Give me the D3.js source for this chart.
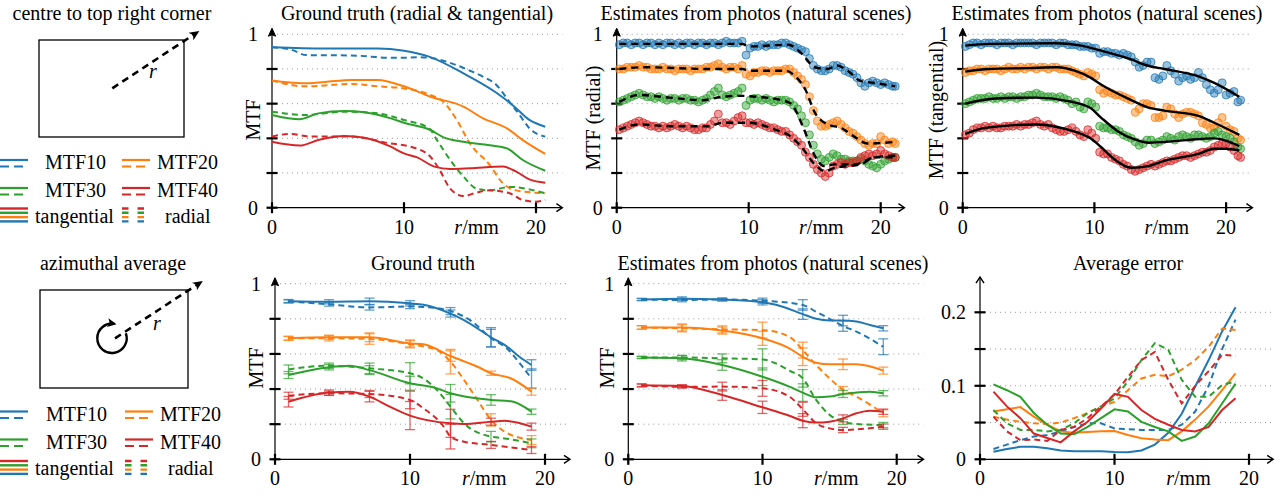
<!DOCTYPE html>
<html><head><meta charset="utf-8">
<script src="https://cdn.jsdelivr.net/npm/d3@7"></script>
<style>
body{margin:0;background:#fff}
svg{display:block}
text{font-family:"Liberation Serif","Times New Roman",serif;font-size:20px;fill:#000}
</style>
</head><body>
<svg id="c" width="1284" height="496"></svg>
<script>
// ---------------- DATA ----------------
const seriesNames = ["MTF10","MTF20","MTF30","MTF40"];
const colors = ["#1f77b4","#ff7f0e","#2ca02c","#d62728"];
const xTickVals = [0,10,20];
const mtfGrid = [0.2,0.4,0.6,0.8,1];
const mtfTicks = [0,0.2,0.4,0.6,0.8];
const mtfTickLabels = [{v:1,t:"1"},{v:0,t:"0"}];
const errGrid = [0.05,0.1,0.15,0.2];
const errTicks = [0,0.05,0.1,0.15,0.2];
const errTickLabels = [{v:0.2,t:"0.2"},{v:0.1,t:"0.1"},{v:0,t:"0"}];

// Panel A: ground truth, centre to corner (knots [r, MTF])
const gtTang10 = [[0,0.925],[4,0.918],[8,0.918],[10,0.905],[11.9,0.871],[14.5,0.775],[17,0.663],[18.3,0.587],[19.5,0.506],[20.7,0.467]];
const gtRad10  = [[0,0.925],[1.5,0.91],[2.6,0.88],[6,0.878],[9,0.865],[10,0.865],[11,0.868],[12.3,0.86],[13.5,0.835],[15,0.79],[16,0.755],[17,0.708],[17.8,0.63],[18.8,0.53],[19.5,0.458],[20.7,0.41]];
const gtTang20 = [[0,0.733],[2.3,0.717],[4,0.725],[6,0.737],[8,0.737],[10,0.70],[12,0.64],[14.5,0.583],[16,0.515],[17.8,0.458],[19,0.39],[20.7,0.31]];
const gtRad20  = [[0,0.733],[2.5,0.70],[6,0.713],[8,0.70],[10,0.688],[12,0.65],[13,0.61],[14,0.506],[15,0.37],[16.5,0.246],[17.5,0.14],[18.5,0.10],[20.7,0.083]];
const gtTang30 = [[0,0.535],[2.1,0.51],[3.5,0.544],[5.5,0.558],[7,0.55],[9,0.515],[10,0.49],[12,0.448],[13,0.406],[14.5,0.38],[16.5,0.36],[17.8,0.342],[19,0.275],[20.7,0.213]];
const gtRad30  = [[0,0.554],[2.5,0.535],[5.5,0.554],[8,0.544],[10,0.506],[11.9,0.458],[12.5,0.39],[13.5,0.275],[14.5,0.18],[15.5,0.11],[16.5,0.10],[18,0.12],[20.7,0.083]];
const gtTang40 = [[0,0.38],[2.1,0.358],[3.5,0.39],[5.5,0.413],[7,0.404],[9,0.352],[10,0.313],[11,0.29],[12.3,0.237],[13.5,0.223],[15,0.227],[17.5,0.237],[18.5,0.208],[19.5,0.163],[20.7,0.144]];
const gtRad40  = [[0,0.41],[1.3,0.425],[3,0.41],[6,0.41],[9,0.37],[10.5,0.352],[12,0.294],[12.7,0.217],[13.5,0.11],[14.5,0.067],[15.5,0.087],[16.5,0.10],[18,0.083],[19,0.044],[20,0.035],[20.7,0.044]];

// Panels B, C: per-patch estimates (r positions shared)
const scatR = [0.2,0.5,0.8,1.1,1.4,1.7,2.0,2.3,2.6,2.9,3.2,3.5,3.8,4.1,4.4,4.7,5.0,5.3,5.6,5.9,6.2,6.5,6.8,7.1,7.4,7.7,8.0,8.3,8.6,8.9,9.2,9.5,9.8,10.1,10.4,10.7,11.0,11.3,11.6,11.9,12.2,12.5,12.8,13.1,13.4,13.7,14.0,14.3,14.6,14.9,15.2,15.5,15.8,16.1,16.4,16.7,17.0,17.3,17.6,17.9,18.2,18.5,18.8,19.1,19.4,19.7,20.0,20.3,20.6,20.9,21.1];
const radB10 = [0.94,0.95,0.95,0.94,0.95,0.95,0.94,0.95,0.95,0.94,0.95,0.94,0.95,0.95,0.94,0.95,0.94,0.95,0.95,0.94,0.95,0.95,0.94,0.95,0.95,0.94,0.95,0.96,0.95,0.95,0.95,0.96,0.88,0.92,0.93,0.93,0.94,0.93,0.94,0.94,0.94,0.95,0.95,0.94,0.93,0.92,0.91,0.90,0.86,0.82,0.80,0.79,0.79,0.80,0.82,0.82,0.81,0.79,0.78,0.77,0.75,0.72,0.70,0.72,0.73,0.72,0.71,0.72,0.71,0.70,0.70];
const radB20 = [0.80,0.80,0.81,0.81,0.81,0.82,0.81,0.81,0.80,0.80,0.80,0.81,0.80,0.80,0.79,0.80,0.80,0.80,0.79,0.80,0.80,0.80,0.81,0.81,0.82,0.83,0.81,0.80,0.81,0.81,0.80,0.82,0.77,0.76,0.78,0.78,0.79,0.79,0.78,0.79,0.79,0.79,0.80,0.80,0.78,0.76,0.74,0.71,0.64,0.56,0.50,0.47,0.47,0.48,0.49,0.50,0.48,0.46,0.44,0.43,0.41,0.39,0.37,0.36,0.37,0.37,0.41,0.39,0.37,0.38,0.37];
const radB30 = [0.61,0.62,0.63,0.64,0.65,0.66,0.65,0.64,0.64,0.63,0.64,0.63,0.62,0.63,0.63,0.62,0.63,0.63,0.62,0.62,0.61,0.62,0.63,0.65,0.67,0.69,0.65,0.64,0.65,0.66,0.67,0.69,0.59,0.62,0.63,0.63,0.62,0.63,0.62,0.61,0.62,0.62,0.62,0.61,0.59,0.57,0.53,0.49,0.42,0.36,0.31,0.28,0.27,0.29,0.31,0.30,0.28,0.28,0.27,0.27,0.27,0.28,0.27,0.25,0.24,0.23,0.25,0.27,0.28,0.29,0.29];
const radB40 = [0.45,0.46,0.47,0.48,0.49,0.50,0.49,0.48,0.47,0.47,0.46,0.47,0.46,0.47,0.48,0.47,0.46,0.47,0.46,0.45,0.45,0.46,0.46,0.48,0.50,0.54,0.49,0.49,0.48,0.50,0.52,0.53,0.49,0.49,0.48,0.49,0.48,0.47,0.46,0.46,0.45,0.44,0.44,0.42,0.40,0.38,0.36,0.32,0.29,0.25,0.22,0.20,0.18,0.20,0.24,0.25,0.26,0.25,0.26,0.26,0.27,0.29,0.30,0.31,0.30,0.31,0.33,0.31,0.30,0.29,0.29];
const tanC10 = [0.93,0.94,0.95,0.95,0.94,0.95,0.95,0.95,0.94,0.95,0.95,0.95,0.94,0.95,0.95,0.95,0.95,0.95,0.94,0.95,0.95,0.95,0.95,0.94,0.95,0.95,0.94,0.94,0.94,0.93,0.93,0.93,0.92,0.92,0.89,0.90,0.90,0.89,0.89,0.88,0.89,0.88,0.87,0.84,0.81,0.82,0.84,0.84,0.75,0.74,0.76,0.82,0.79,0.77,0.73,0.75,0.76,0.74,0.75,0.78,0.75,0.71,0.68,0.66,0.68,0.72,0.65,0.66,0.67,0.61,0.62];
const tanC20 = [0.78,0.79,0.79,0.80,0.80,0.79,0.80,0.80,0.80,0.79,0.80,0.81,0.80,0.80,0.81,0.80,0.81,0.81,0.80,0.81,0.81,0.80,0.81,0.81,0.80,0.80,0.80,0.79,0.78,0.77,0.76,0.78,0.77,0.76,0.68,0.66,0.67,0.66,0.65,0.65,0.64,0.63,0.62,0.55,0.57,0.60,0.60,0.59,0.52,0.52,0.53,0.58,0.57,0.54,0.52,0.54,0.55,0.55,0.54,0.53,0.49,0.48,0.46,0.46,0.49,0.52,0.47,0.45,0.44,0.40,0.39];
const tanC30 = [0.60,0.61,0.62,0.63,0.63,0.63,0.64,0.63,0.63,0.64,0.63,0.64,0.64,0.63,0.64,0.64,0.65,0.65,0.66,0.65,0.64,0.64,0.64,0.63,0.64,0.63,0.62,0.60,0.61,0.58,0.57,0.61,0.60,0.58,0.47,0.46,0.46,0.45,0.45,0.44,0.42,0.41,0.40,0.38,0.36,0.37,0.39,0.39,0.37,0.38,0.39,0.41,0.40,0.39,0.41,0.42,0.41,0.40,0.42,0.42,0.41,0.40,0.41,0.43,0.44,0.42,0.41,0.40,0.38,0.35,0.34];
const tanC40 = [0.42,0.43,0.45,0.46,0.46,0.47,0.46,0.47,0.46,0.46,0.47,0.47,0.47,0.48,0.47,0.48,0.48,0.49,0.50,0.48,0.47,0.48,0.46,0.45,0.44,0.44,0.45,0.46,0.44,0.42,0.41,0.45,0.43,0.40,0.32,0.31,0.31,0.29,0.28,0.27,0.25,0.24,0.22,0.21,0.22,0.23,0.24,0.25,0.24,0.25,0.26,0.27,0.27,0.28,0.29,0.30,0.30,0.29,0.30,0.31,0.32,0.32,0.33,0.35,0.36,0.37,0.37,0.35,0.33,0.30,0.29];
// fitted curves (black)
const fitB10 = [[0.2,0.945],[5,0.945],[9.5,0.945],[10,0.93],[13,0.94],[14,0.89],[15,0.81],[16,0.80],[16.7,0.82],[17.5,0.79],[18.5,0.73],[19.5,0.72],[21.1,0.70]];
const fitB20 = [[0.2,0.80],[2,0.81],[7,0.80],[9.5,0.80],[10.1,0.79],[12.8,0.79],[13.5,0.76],[14.3,0.68],[15,0.55],[16,0.48],[17,0.46],[18,0.41],[19,0.37],[21.1,0.38]];
const fitB30 = [[0.2,0.61],[1.7,0.65],[4,0.635],[6.5,0.62],[8,0.64],[9.5,0.645],[10.5,0.64],[12.5,0.62],[13.2,0.60],[14.2,0.45],[15,0.30],[15.7,0.24],[16.5,0.25],[18,0.25],[19.5,0.29],[21.1,0.30]];
const fitB40 = [[0.2,0.45],[1.7,0.48],[4,0.47],[7,0.47],[8,0.49],[10,0.49],[12,0.45],[13,0.42],[14,0.35],[15,0.25],[15.8,0.21],[16.5,0.23],[17.5,0.24],[18.5,0.25],[19.5,0.29],[21.1,0.29]];
const fitC10 = [[0.2,0.935],[2,0.945],[7,0.948],[9,0.935],[10.3,0.91],[12.8,0.855],[14,0.82],[15.3,0.80],[17.9,0.757],[19.1,0.72],[21,0.64]];
const fitC20 = [[0.2,0.785],[2,0.80],[5,0.805],[7.2,0.81],[8.5,0.79],[9.7,0.75],[10.5,0.71],[12.8,0.62],[14,0.58],[15.3,0.56],[17.9,0.53],[19.1,0.49],[21,0.42]];
const fitC30 = [[0.2,0.60],[2.5,0.63],[5.5,0.635],[8,0.615],[9.7,0.575],[10.5,0.52],[11.8,0.44],[13,0.395],[14.1,0.375],[15.5,0.38],[17,0.39],[19.1,0.40],[20.4,0.375],[21,0.355]];
const fitC40 = [[0.2,0.425],[1.7,0.46],[5.5,0.48],[8,0.45],[9.7,0.40],[10.5,0.35],[11.5,0.28],[12.8,0.23],[14.1,0.24],[15.3,0.27],[17.9,0.31],[19.1,0.34],[20,0.34],[21,0.33]];

// Panels D, E: azimuthal averages, error bars at errR
const errR = [1,4,7,10,13,16,19];
const azGtT10 = [[1,0.90],[4,0.897],[7,0.90],[10,0.888],[11,0.88],[13,0.83],[14,0.793],[16,0.695],[17.2,0.641],[18.1,0.584],[19,0.537]];
const azGtR10 = [[1,0.90],[4,0.882],[7,0.865],[10,0.87],[11,0.868],[13,0.844],[14.5,0.79],[16,0.69],[17.2,0.63],[18.2,0.54],[19,0.46]];
const azGtT20 = [[1,0.689],[4,0.695],[7,0.695],[10,0.66],[11,0.655],[13,0.588],[15,0.527],[16,0.49],[17.5,0.46],[19,0.385]];
const azGtR20 = [[1,0.689],[4,0.689],[7,0.685],[10,0.655],[12,0.622],[13,0.556],[14,0.452],[15,0.338],[16,0.224],[17,0.158],[19,0.11]];
const azGtT30 = [[1,0.48],[4,0.524],[5.5,0.533],[7,0.508],[10,0.433],[12,0.404],[13,0.376],[16,0.338],[17.5,0.33],[19,0.271]];
const azGtR30 = [[1,0.512],[4,0.533],[7,0.518],[10,0.49],[11,0.46],[12,0.394],[13,0.30],[14,0.205],[16,0.129],[17,0.119],[19,0.091]];
const azGtT40 = [[1,0.328],[4,0.38],[5.5,0.385],[7,0.357],[8.5,0.30],[10,0.249],[13,0.205],[14,0.201],[16,0.214],[17,0.219],[19,0.186]];
const azGtR40 = [[1,0.362],[4,0.376],[7,0.372],[10,0.338],[11,0.29],[12.5,0.186],[13,0.129],[14,0.10],[16,0.082],[19,0.053]];
const azGtErrT10 = [0.01,0.012,0.018,0.015,0.02,0.055,0.03];
const azGtErrR10 = [0.008,0.01,0.015,0.012,0.02,0.05,0.055];
const azGtErrT20 = [0.012,0.012,0.025,0.02,0.03,0.012,0.02];
const azGtErrR20 = [0.01,0.015,0.03,0.02,0.07,0.035,0.025];
const azGtErrT30 = [0.02,0.015,0.025,0.04,0.05,0.03,0.015];
const azGtErrR30 = [0.025,0.015,0.03,0.06,0.07,0.03,0.025];
const azGtErrT40 = [0.03,0.015,0.03,0.08,0.08,0.02,0.02];
const azGtErrR40 = [0.02,0.012,0.02,0.05,0.07,0.02,0.02];

const azEsT10 = [[1,0.91],[4,0.915],[7,0.91],[10,0.894],[11,0.88],[13,0.827],[14,0.80],[15,0.79],[16,0.79],[17,0.785],[18,0.765],[19,0.746]];
const azEsR10 = [[1,0.91],[4,0.907],[7,0.91],[10,0.903],[13,0.879],[14,0.84],[15,0.80],[16,0.759],[17,0.727],[19,0.641]];
const azEsT20 = [[1,0.751],[4,0.751],[7,0.733],[10,0.689],[12,0.632],[13,0.584],[14,0.55],[15,0.541],[16,0.541],[17,0.541],[19,0.505]];
const azEsR20 = [[1,0.751],[4,0.746],[7,0.74],[10,0.736],[12,0.698],[13,0.622],[14,0.537],[15,0.461],[16,0.395],[17,0.357],[19,0.262]];
const azEsT30 = [[1,0.58],[4,0.575],[7,0.537],[10,0.47],[12,0.414],[13,0.38],[14,0.353],[15,0.357],[16,0.372],[17,0.38],[18,0.385],[19,0.376]];
const azEsR30 = [[1,0.58],[4,0.58],[7,0.575],[10,0.569],[11,0.546],[12,0.505],[13,0.461],[14,0.338],[15,0.253],[16,0.214],[17,0.201],[19,0.195]];
const azEsT40 = [[1,0.421],[4,0.417],[7,0.366],[10,0.296],[12,0.248],[13,0.22],[14,0.209],[15,0.214],[16,0.233],[17,0.262],[18,0.277],[19,0.271]];
const azEsR40 = [[1,0.421],[4,0.413],[7,0.414],[10,0.404],[12,0.357],[13,0.285],[14,0.205],[15,0.176],[16,0.167],[17,0.17],[19,0.186]];
const azEsErrT10 = [0.006,0.01,0.008,0.015,0.03,0.03,0.015];
const azEsErrR10 = [0.006,0.01,0.008,0.015,0.03,0.03,0.045];
const azEsErrT20 = [0.01,0.02,0.02,0.04,0.05,0.03,0.02];
const azEsErrR20 = [0.01,0.02,0.02,0.045,0.045,0.02,0.02];
const azEsErrT30 = [0.006,0.015,0.03,0.05,0.05,0.02,0.015];
const azEsErrR30 = [0.006,0.012,0.025,0.06,0.05,0.015,0.015];
const azEsErrT40 = [0.008,0.008,0.03,0.035,0.04,0.02,0.015];
const azEsErrR40 = [0.008,0.008,0.025,0.045,0.04,0.015,0.015];

// Panel F: average error
const errRadius = [1,2,3,4,5,6,7,8,9,10,11,12,13,14,15,16,17,18,19];
const avgErrT10 = [0.0104,0.014,0.017,0.017,0.015,0.012,0.011,0.011,0.011,0.010,0.0095,0.012,0.02,0.036,0.062,0.099,0.135,0.174,0.207];
const avgErrR10 = [0.014,0.02,0.026,0.031,0.033,0.038,0.044,0.049,0.049,0.042,0.041,0.040,0.040,0.040,0.047,0.065,0.10,0.15,0.19];
const avgErrT20 = [0.065,0.068,0.071,0.058,0.047,0.038,0.036,0.037,0.038,0.0385,0.033,0.0286,0.027,0.026,0.038,0.054,0.072,0.094,0.117];
const avgErrR20 = [0.058,0.054,0.051,0.049,0.048,0.05,0.056,0.063,0.072,0.078,0.094,0.11,0.115,0.113,0.122,0.135,0.153,0.178,0.176];
const avgErrT30 = [0.102,0.094,0.085,0.063,0.047,0.035,0.034,0.044,0.056,0.068,0.065,0.051,0.044,0.038,0.025,0.031,0.049,0.076,0.103];
const avgErrR30 = [0.067,0.049,0.04,0.04,0.038,0.04,0.049,0.063,0.072,0.083,0.106,0.135,0.158,0.149,0.108,0.085,0.085,0.101,0.106];
const avgErrT40 = [0.092,0.072,0.056,0.035,0.029,0.023,0.038,0.051,0.069,0.089,0.085,0.067,0.055,0.047,0.040,0.038,0.044,0.067,0.083];
const avgErrR40 = [0.058,0.038,0.026,0.027,0.025,0.04,0.044,0.056,0.072,0.088,0.112,0.135,0.146,0.108,0.076,0.10,0.12,0.142,0.141];

// ---------------- DRAW ----------------
const svg = d3.select("#c");
const DASH = "6,4";

function arrowHead(g, x, y, angle, filled){
  const p = filled ? "M0,0 L-8,-3.6 L-6.5,0 L-8,3.6 Z" : "M-6,-4 L0,0 L-6,4";
  g.append("path").attr("d", p)
    .attr("transform", `translate(${x},${y}) rotate(${angle})`)
    .attr("fill", filled ? "#000" : "none").attr("stroke", "#000")
    .attr("stroke-width", filled ? 1 : 1.4).attr("stroke-linejoin","miter");
}

function frame(o){
  const g = svg.append("g");
  const x0 = o.x(0), y0 = o.y(0), xEnd = o.x(o.xMax), yEnd = o.y(o.yMax);
  g.selectAll(null).data(o.grid).join("line")
    .attr("x1", x0).attr("x2", xEnd).attr("y1", d => o.y(d)).attr("y2", d => o.y(d))
    .attr("stroke", "#9a9a9a").attr("stroke-width", 1).attr("stroke-dasharray", "1,4");
  g.append("line").attr("x1", x0 - 5).attr("x2", xEnd - 1).attr("y1", y0).attr("y2", y0)
    .attr("stroke", "#000").attr("stroke-width", 1.2);
  g.append("line").attr("x1", x0).attr("x2", x0).attr("y1", y0 + 5).attr("y2", yEnd + 1)
    .attr("stroke", "#000").attr("stroke-width", 1.2);
  arrowHead(g, xEnd, y0, 0, false);
  arrowHead(g, x0, yEnd, -90, o.filledY);
  g.selectAll(null).data(o.yTicks).join("line")
    .attr("x1", x0 - 5.5).attr("x2", x0 + 5.5).attr("y1", d => o.y(d)).attr("y2", d => o.y(d))
    .attr("stroke", "#000").attr("stroke-width", 2.2);
  g.selectAll(null).data(xTickVals).join("line")
    .attr("x1", d => o.x(d)).attr("x2", d => o.x(d)).attr("y1", y0 - 5.5).attr("y2", y0 + 5.5)
    .attr("stroke", "#000").attr("stroke-width", 2.2);
  g.selectAll(null).data(o.yLabels).join("text")
    .attr("x", x0 - 14).attr("y", d => o.y(d.v)).attr("dy", "0.35em")
    .attr("text-anchor", "end").text(d => d.t);
  g.selectAll(null).data(xTickVals).join("text")
    .attr("x", d => o.x(d)).attr("y", y0 + 26).attr("text-anchor", "middle").text(d => d);
  const t = g.append("text").attr("x", o.x(15.5)).attr("y", y0 + 26).attr("text-anchor", "middle");
  t.append("tspan").attr("font-style", "italic").text("r");
  t.append("tspan").text("/mm");
  g.append("text").attr("x", o.titleX).attr("y", o.titleY).attr("text-anchor", "middle").text(o.title);
  if (o.ylab) g.append("text")
    .attr("transform", `translate(${o.ylabX},${o.ylabY}) rotate(-90)`)
    .attr("text-anchor", "middle").attr("dy", "0.35em").text(o.ylab);
}

function drawCurve(g, x, y, pts, color, dashed, curve, width){
  const line = d3.line().x(d => x(d[0])).y(d => y(d[1])).curve(curve || d3.curveMonotoneX);
  g.append("path").attr("d", line(pts)).attr("fill", "none")
    .attr("stroke", color).attr("stroke-width", width || 2)
    .attr("stroke-dasharray", dashed ? DASH : null);
}

function drawErr(g, x, y, pts, errs, color){
  errR.forEach((r, i) => {
    const k = pts.find(p => p[0] === r);
    if (!k) return;
    const cx = x(r), lo = y(k[1] - errs[i]), hi = y(k[1] + errs[i]);
    const eg = g.append("g").attr("stroke", color).attr("stroke-width", 1.3).attr("stroke-opacity", 0.7);
    eg.append("line").attr("x1", cx).attr("x2", cx).attr("y1", lo).attr("y2", hi);
    eg.append("line").attr("x1", cx - 5).attr("x2", cx + 5).attr("y1", lo).attr("y2", lo);
    eg.append("line").attr("x1", cx - 5).attr("x2", cx + 5).attr("y1", hi).attr("y2", hi);
  });
}

function drawScatter(g, x, y, vals, color){
  const pts = vals.map((v, i) => [scatR[i], v]).filter(d => d[0] !== undefined);
  g.selectAll(null).data(pts).join("circle")
    .attr("cx", d => x(d[0])).attr("cy", d => y(d[1])).attr("r", 4)
    .attr("fill", color).attr("fill-opacity", 0.45)
    .attr("stroke", color).attr("stroke-opacity", 0.75).attr("stroke-width", 1);
}

// scales
const yTop = d3.scaleLinear().domain([0, 1]).range([207.7, 34.3]);
const yBot = d3.scaleLinear().domain([0, 1]).range([459.3, 283.7]);
const yF = d3.scaleLinear().domain([0, 0.2]).range([459.3, 312.3]);
const xA = d3.scaleLinear().domain([0, 22]).range([272, 272 + 22 * 13.2]);
const xB = d3.scaleLinear().domain([0, 22]).range([616.7, 616.7 + 22 * 13.2]);
const xC = d3.scaleLinear().domain([0, 22]).range([962.7, 962.7 + 22 * 13.17]);
const xD = d3.scaleLinear().domain([0, 22]).range([275, 275 + 22 * 13.5]);
const xE = d3.scaleLinear().domain([0, 22]).range([628.3, 628.3 + 22 * 13.42]);
const xF = d3.scaleLinear().domain([0, 22]).range([980, 980 + 22 * 13.45]);

// frames
frame({x: xA, y: yTop, xMax: 22, yMax: 1.035, grid: mtfGrid, yTicks: mtfTicks, yLabels: mtfTickLabels, filledY: true,
  title: "Ground truth (radial & tangential)", titleX: 417, titleY: 19.5, ylab: "MTF", ylabX: 253, ylabY: 120});
frame({x: xB, y: yTop, xMax: 21.8, yMax: 1.035, grid: mtfGrid, yTicks: mtfTicks, yLabels: mtfTickLabels, filledY: true,
  title: "Estimates from photos (natural scenes)", titleX: 756, titleY: 19.5, ylab: "MTF (radial)", ylabX: 593, ylabY: 118});
frame({x: xC, y: yTop, xMax: 22, yMax: 1.035, grid: mtfGrid, yTicks: mtfTicks, yLabels: mtfTickLabels, filledY: true,
  title: "Estimates from photos (natural scenes)", titleX: 1107, titleY: 19.5, ylab: "MTF (tangential)", ylabX: 936, ylabY: 110});
frame({x: xD, y: yBot, xMax: 21.85, yMax: 1.034, grid: mtfGrid, yTicks: mtfTicks, yLabels: mtfTickLabels, filledY: true,
  title: "Ground truth", titleX: 423, titleY: 270, ylab: "MTF", ylabX: 256, ylabY: 368});
frame({x: xE, y: yBot, xMax: 22, yMax: 1.034, grid: mtfGrid, yTicks: mtfTicks, yLabels: mtfTickLabels, filledY: true,
  title: "Estimates from photos (natural scenes)", titleX: 773, titleY: 270, ylab: "MTF", ylabX: 607, ylabY: 368});
frame({x: xF, y: yF, xMax: 21.8, yMax: 0.248, grid: errGrid, yTicks: errTicks, yLabels: errTickLabels, filledY: false,
  title: "Average error", titleX: 1128, titleY: 270, ylab: null});

// Panel A
const gA = svg.append("g");
[[gtTang10, gtRad10], [gtTang20, gtRad20], [gtTang30, gtRad30], [gtTang40, gtRad40]].forEach((s, i) => {
  drawCurve(gA, xA, yTop, s[1], colors[i], true);
  drawCurve(gA, xA, yTop, s[0], colors[i], false);
});

// Panel B
const gB = svg.append("g");
[radB10, radB20, radB30, radB40].forEach((v, i) => drawScatter(gB, xB, yTop, v, colors[i]));
[fitB10, fitB20, fitB30, fitB40].forEach(f => {
  gB.append("path").attr("d", d3.line().x(d => xB(d[0])).y(d => yTop(d[1])).curve(d3.curveMonotoneX)(f))
    .attr("fill", "none").attr("stroke", "#000").attr("stroke-width", 2.4).attr("stroke-dasharray", "7,5");
});

// Panel C
const gC = svg.append("g");
[tanC10, tanC20, tanC30, tanC40].forEach((v, i) => drawScatter(gC, xC, yTop, v, colors[i]));
[fitC10, fitC20, fitC30, fitC40].forEach(f => {
  gC.append("path").attr("d", d3.line().x(d => xC(d[0])).y(d => yTop(d[1])).curve(d3.curveMonotoneX)(f))
    .attr("fill", "none").attr("stroke", "#000").attr("stroke-width", 2.4);
});

// Panel D
const gD = svg.append("g");
[[azGtT10, azGtR10, azGtErrT10, azGtErrR10], [azGtT20, azGtR20, azGtErrT20, azGtErrR20],
 [azGtT30, azGtR30, azGtErrT30, azGtErrR30], [azGtT40, azGtR40, azGtErrT40, azGtErrR40]].forEach((s, i) => {
  drawCurve(gD, xD, yBot, s[1], colors[i], true);
  drawCurve(gD, xD, yBot, s[0], colors[i], false);
  drawErr(gD, xD, yBot, s[1], s[3], colors[i]);
  drawErr(gD, xD, yBot, s[0], s[2], colors[i]);
});

// Panel E
const gE = svg.append("g");
[[azEsT10, azEsR10, azEsErrT10, azEsErrR10], [azEsT20, azEsR20, azEsErrT20, azEsErrR20],
 [azEsT30, azEsR30, azEsErrT30, azEsErrR30], [azEsT40, azEsR40, azEsErrT40, azEsErrR40]].forEach((s, i) => {
  drawCurve(gE, xE, yBot, s[1], colors[i], true);
  drawCurve(gE, xE, yBot, s[0], colors[i], false);
  drawErr(gE, xE, yBot, s[1], s[3], colors[i]);
  drawErr(gE, xE, yBot, s[0], s[2], colors[i]);
});

// Panel F
const gF = svg.append("g");
[[avgErrT10, avgErrR10], [avgErrT20, avgErrR20], [avgErrT30, avgErrR30], [avgErrT40, avgErrR40]].forEach((s, i) => {
  drawCurve(gF, xF, yF, s[1].map((v, j) => [errRadius[j], v]), colors[i], true, d3.curveLinear);
  drawCurve(gF, xF, yF, s[0].map((v, j) => [errRadius[j], v]), colors[i], false, d3.curveLinear);
});

// ---------------- Left diagrams & legends ----------------
function diagram(o){
  const g = svg.append("g");
  g.append("text").attr("x", o.titleX).attr("y", o.titleY).attr("text-anchor", "middle").text(o.title);
  g.append("rect").attr("x", o.rx).attr("y", o.ry).attr("width", o.rw).attr("height", o.rh)
    .attr("fill", "none").attr("stroke", "#000").attr("stroke-width", 1.3);
  const ang = Math.atan2(o.y2 - o.y1, o.x2 - o.x1) * 180 / Math.PI;
  g.append("line").attr("x1", o.x1).attr("y1", o.y1).attr("x2", o.x2 - 4 * Math.cos(ang * Math.PI / 180)).attr("y2", o.y2 - 4 * Math.sin(ang * Math.PI / 180))
    .attr("stroke", "#000").attr("stroke-width", 2.6).attr("stroke-dasharray", "7,5");
  g.append("path").attr("d", "M1,0 L-9,-4.5 L-6.5,0 L-9,4.5 Z")
    .attr("transform", `translate(${o.x2},${o.y2}) rotate(${ang})`).attr("fill", "#000");
  g.append("text").attr("x", o.lx).attr("y", o.ly).attr("text-anchor", "middle").attr("font-style", "italic").text("r");
  if (o.circle) {
    const c = o.circle, a1 = -20 * Math.PI / 180, a2 = 280 * Math.PI / 180;
    const sx = c.cx + c.r * Math.cos(a1), sy = c.cy + c.r * Math.sin(a1);
    const ex = c.cx + c.r * Math.cos(a2), ey = c.cy + c.r * Math.sin(a2);
    g.append("path").attr("d", `M${sx},${sy} A${c.r},${c.r} 0 1 1 ${ex},${ey}`)
      .attr("fill", "none").attr("stroke", "#000").attr("stroke-width", 2.4);
    const tang = Math.atan2(Math.cos(a2), -Math.sin(a2)) * 180 / Math.PI;
    g.append("path").attr("d", "M2,0 L-7,-4.5 L-5,0 L-7,4.5 Z")
      .attr("transform", `translate(${ex},${ey}) rotate(${tang})`).attr("fill", "#000");
  }
}

function legendBlock(o){
  const g = svg.append("g");
  const cols = [{lx: 0, tx: o.t1}, {lx: o.c2, tx: o.t2}];
  seriesNames.forEach((name, i) => {
    const row = Math.floor(i / 2), col = cols[i % 2];
    const yb = o.rows[row];
    g.append("line").attr("x1", col.lx).attr("x2", col.lx + 28).attr("y1", yb - 9).attr("y2", yb - 9)
      .attr("stroke", colors[i]).attr("stroke-width", 2.2);
    g.append("line").attr("x1", col.lx).attr("x2", col.lx + 28).attr("y1", yb - 2.5).attr("y2", yb - 2.5)
      .attr("stroke", colors[i]).attr("stroke-width", 2.2).attr("stroke-dasharray", "9,5");
    g.append("text").attr("x", col.tx).attr("y", yb).text(name);
  });
  const yb = o.rows[2];
  const order = [3, 2, 1, 0];
  order.forEach((ci, k) => {
    const yy = yb - 14 + k * 4.3;
    g.append("line").attr("x1", 0).attr("x2", 28).attr("y1", yy).attr("y2", yy)
      .attr("stroke", colors[ci]).attr("stroke-width", 2.4);
    g.append("line").attr("x1", o.c2).attr("x2", o.c2 + 23).attr("y1", yy).attr("y2", yy)
      .attr("stroke", colors[ci]).attr("stroke-width", 2.4).attr("stroke-dasharray", "6.5,9");
  });
  g.append("text").attr("x", 35).attr("y", yb).text("tangential");
  g.append("text").attr("x", o.radX).attr("y", yb).text("radial");
}

diagram({title: "centre to top right corner", titleX: 112, titleY: 19.5, rx: 39, ry: 40, rw: 145, rh: 97,
  x1: 112.3, y1: 88.3, x2: 198.5, y2: 31.5, lx: 153, ly: 78});
diagram({title: "azimuthal average", titleX: 113, titleY: 269.5, rx: 40, ry: 290, rw: 148, rh: 98,
  x1: 115, y1: 338.3, x2: 202, y2: 281.5, lx: 157, ly: 330, circle: {cx: 112, cy: 338.3, r: 14.7}});
legendBlock({rows: [169, 197, 222.5], t1: 45, c2: 122, t2: 157, radX: 165});
legendBlock({rows: [420.5, 448.5, 475], t1: 46, c2: 125, t2: 160, radX: 168});
</script>
</body></html>
